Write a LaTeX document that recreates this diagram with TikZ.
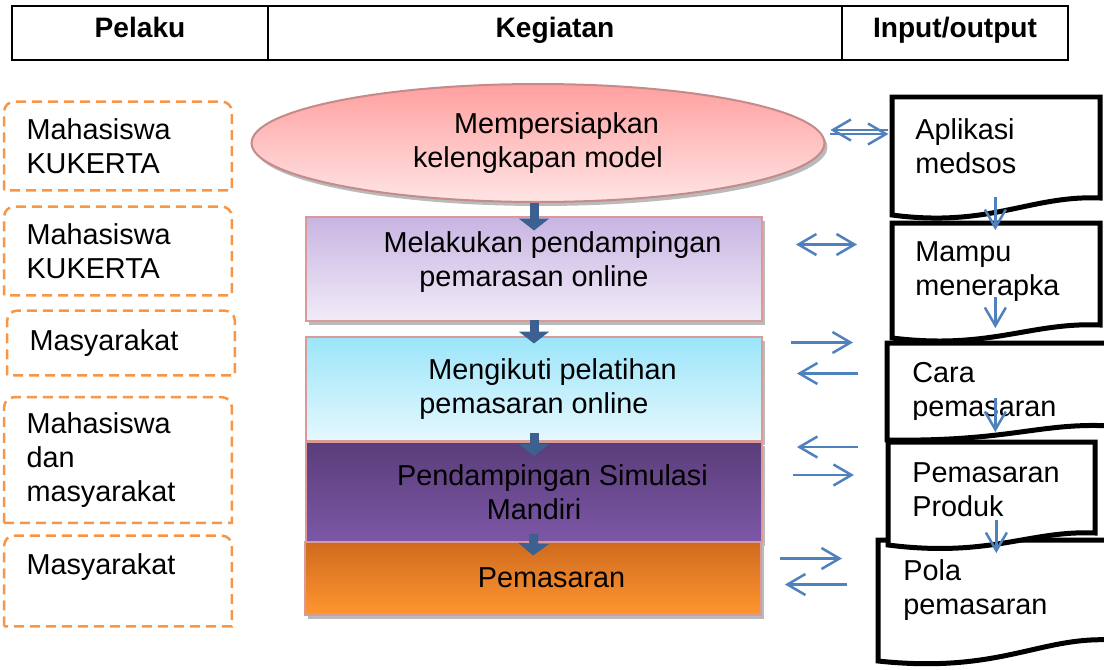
\documentclass[tikz,border=0pt]{standalone}
\usepackage{fontspec}
\setmainfont{Liberation Sans}
\usetikzlibrary{arrows.meta,shapes.geometric,shadows}

\definecolor{pelakuorange}{HTML}{F79646}
\definecolor{pinkline}{HTML}{D99A98}
\definecolor{linkblue}{HTML}{4F81BD}
\definecolor{flowblue}{HTML}{3C6190}
\definecolor{ellTop}{HTML}{FF9F9F}
\definecolor{ellBot}{HTML}{FFE5E5}
\definecolor{lilaTop}{HTML}{C8B4E2}
\definecolor{lilaBot}{HTML}{F1ECF8}
\definecolor{cyanTop}{HTML}{9BE5FA}
\definecolor{cyanBot}{HTML}{E6F8FD}
\definecolor{ungTop}{HTML}{5A3D7A}
\definecolor{ungBot}{HTML}{7D57A7}
\definecolor{oranTop}{HTML}{CF6A1E}
\definecolor{oranBot}{HTML}{FF9630}

\newcommand{\ind}{\hspace*{0.74cm}}

\tikzset{
  txt/.style={font=\fontsize{16.4pt}{19.4pt}\selectfont},
  headcell/.style={draw, line width=0.04cm, minimum height=1.08cm, inner sep=0pt,
    text depth=0.24cm, font=\fontsize{16pt}{19pt}\selectfont\bfseries},
  pelaku/.style={txt, text width=3.66cm, inner xsep=0.44cm, inner ysep=0pt, align=left},
  pelakuline/.style={draw=pelakuorange, line width=0.05cm, dash pattern=on 0.2cm off 0.12cm},
  kegiatan/.style={txt, draw=pinkline, line width=0.04cm, minimum width=9.12cm, inner sep=0pt,
    align=center, drop shadow={shadow xshift=0.06cm, shadow yshift=-0.08cm, fill=black!45, opacity=0.6}},
  doctext/.style={txt, anchor=west, text width=3.2cm, inner sep=0pt, align=left},
  docline/.style={draw, fill=white, line width=0.1cm, line join=miter},
  linkarrow/.style={draw=linkblue, line width=0.05cm, -{Straight Barb[length=0.36cm,width=0.42cm]}},
  linkboth/.style={linkarrow, {Straight Barb[length=0.36cm,width=0.42cm]}-{Straight Barb[length=0.36cm,width=0.42cm]}},
  flowarrow/.style={draw=flowblue, line width=0.18cm, -{Triangle[length=0.24cm,width=0.6cm]}},
}

\begin{document}
\begin{tikzpicture}[x=0.02cm,y=-0.02cm]
  \useasboundingbox (0,0) rectangle (1104,669);

  \node[headcell, minimum width=5.12cm] (h1) at (140,33) {Pelaku};
  \node[headcell, minimum width=11.48cm] (h2) at (555,33) {Kegiatan};
  \node[headcell, minimum width=4.52cm] (h3) at (955,33) {Input/output};

  \node[pelaku, minimum height=1.76cm] (p1) at (118,146) {Mahasiswa\\KUKERTA};
  \node[pelaku, minimum height=1.76cm] (p2) at (118,251) {Mahasiswa\\KUKERTA};
  \node[pelaku, minimum height=1.28cm] (p3) at (121,343) {Masyarakat};
  \node[pelaku, minimum height=2.5cm] (p4) at (118,460) {Mahasiswa\\dan\\masyarakat};
  \node[pelaku, minimum height=1.8cm] (p5) at (118,581) {Masyarakat\\\mbox{}};
  \foreach \p in {p1,p2,p3,p4,p5}
    \draw[pelakuline] (\p.south west) [rounded corners=0.2cm] -- (\p.north west)
      -- (\p.north east) [sharp corners] -- (\p.south east) -- cycle;

  \node[kegiatan, ellipse, draw=pinkline!90!black, minimum width=11.46cm, minimum height=2.36cm,
    top color=ellTop, bottom color=ellBot] (ell) at (538,143)
    {\ind Mempersiapkan\\kelengkapan model};
  \node[kegiatan, minimum height=2.1cm, top color=lilaTop, bottom color=lilaBot] (m1) at (534,269)
    {\ind Melakukan pendampingan\\pemarasan online\\[-0.3cm]\mbox{}};
  \node[kegiatan, minimum height=2.1cm, top color=cyanTop, bottom color=cyanBot] (m2) at (534,389)
    {\ind Mengikuti pelatihan\\pemasaran online};
  \node[kegiatan, minimum height=2.0cm, top color=ungTop, bottom color=ungBot] (m3) at (534,492)
    {\ind Pendampingan Simulasi\\Mandiri};
  \node[kegiatan, minimum height=1.46cm, top color=oranTop, bottom color=oranBot] (m4) at (533,578)
    {\ind Pemasaran};

  \draw[flowarrow] (ell.south -| m1.north) -- ([yshift=-0.3cm]m1.north);
  \draw[flowarrow] ([yshift=0.04cm]m1.south) -- ([yshift=-0.16cm]m2.north);
  \draw[flowarrow] ([yshift=0.18cm]m2.south) -- ([yshift=-0.3cm]m3.north);
  \draw[flowarrow] ([yshift=0.18cm]m3.south) -- ([yshift=-0.3cm]m4.north);

  \draw[docline] (892,97) -- (1100,97) -- (1100,198) .. controls (1030,195) and (990,228) .. (892,215) -- cycle;
  \draw[docline] (892,223) -- (1100,223) -- (1100,325) .. controls (1030,322) and (990,350) .. (892,338) -- cycle;
  \draw[docline] (887,343) -- (1112,343) -- (1112,426) .. controls (1040,422) and (1010,442) .. (887,440) -- cycle;
  \draw[docline] (878,540) -- (1112,540) -- (1112,640) .. controls (1040,636) and (1000,674) .. (878,661) -- cycle;
  \draw[docline] (888,442) -- (1095,442) -- (1095,533) .. controls (1030,530) and (990,558) .. (888,545) -- cycle;

  \node[doctext] (t1) at (915,146) {Aplikasi\\medsos};
  \node[doctext] (t2) at (915,272) {Mampu\\menerapka};
  \begin{scope}
    \clip (880,343) rectangle (1104,419);
    \node[doctext] (t3) at (912,392) {Cara\\pemasaran};
  \end{scope}
  \node[doctext] (t4) at (912,490) {Pemasaran\\Produk};
  \node[doctext] (t5) at (903,590) {Pola\\pemasaran};

  \draw[linkarrow] ([yshift=-1.02cm]t1.center) -- ++(0,33);
  \draw[linkarrow] ([yshift=-0.5cm]t2.center) -- ++(0,31);
  \draw[linkarrow] ([xshift=0.06cm,yshift=-0.12cm]t3.center) -- ++(0,34);
  \draw[linkarrow] ([xshift=0.08cm,yshift=-0.6cm]t4.center) -- ++(0,33);

  \draw[linkarrow] ([xshift=1.26cm,yshift=0.26cm]ell.east) -- ++(-58,0);
  \draw[linkarrow] ([xshift=0.1cm,yshift=0.18cm]ell.east) -- ++(58,0);
  \draw[linkboth] ([xshift=0.66cm,yshift=0.49cm]m1.east) -- ++(61,0);
  \draw[linkarrow] ([xshift=0.56cm,yshift=0.93cm]m2.east) -- ++(62,0);
  \draw[linkarrow] ([xshift=1.9cm,yshift=0.31cm]m2.east) -- ++(-61,0);
  \draw[linkarrow] ([xshift=1.9cm,yshift=0.9cm]m3.east) -- ++(-61,0);
  \draw[linkarrow] ([xshift=0.6cm,yshift=0.34cm]m3.east) -- ++(61,0);
  \draw[linkarrow] ([xshift=0.36cm,yshift=0.39cm]m4.east) -- ++(62,0);
  \draw[linkarrow] ([xshift=1.7cm,yshift=-0.13cm]m4.east) -- ++(-62,0);
\end{tikzpicture}
\end{document}
